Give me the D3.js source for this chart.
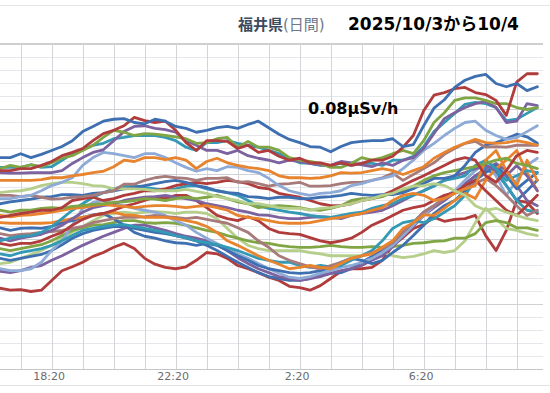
<!DOCTYPE html>
<html><head><meta charset="utf-8">
<script src="https://cdn.jsdelivr.net/npm/d3@7/dist/d3.min.js"></script>
<style>
html,body{margin:0;padding:0;background:#fff;}
svg{display:block;font-family:"DejaVu Sans","Noto Sans CJK JP",sans-serif;}
</style></head><body>
<svg id="chart" width="550" height="393"></svg>
<script>
// ---- data (air dose rate, nSv/h = 0.001 μSv/h), 20-minute readings from 2025/10/3 16:40 ----
const startTime = "2025-10-03T16:40:00";
const stepMinutes = 20;
const titlePref = "福井県";
const titleKind = "(日間)";
const titleDate = "2025/10/3から10/4";
const refLevel = 80;            // 0.08 μSv/h
const unitLabel = "μSv/h";
const tickTimes = ["2025-10-03T18:20:00","2025-10-03T22:20:00","2025-10-04T02:20:00","2025-10-04T06:20:00"];

const s01 = [72.6,72.6,73.2,72.6,73.1,73.7,74.3,75.2,76.6,77.4,78.2,78.5,78.6,78.0,77.8,78.5,78.2,77.4,77.1,76.5,76.8,77.2,77.4,77.1,77.7,78.2,77.2,76.2,75.4,74.9,74.3,74.2,73.5,74.3,74.9,75.1,75.2,75.2,75.5,74.3,74.6,77.5,80.2,81.5,83.4,84.5,85.1,85.4,84.0,83.5,84.0,82.9,83.5];
const s02 = [70.6,70.6,70.9,70.9,71.4,72.0,72.9,73.4,74.0,75.2,76.3,76.8,77.5,78.8,78.3,78.0,78.2,76.8,74.9,73.7,75.2,75.2,75.1,74.0,74.5,73.4,73.7,72.8,72.2,72.5,71.8,71.8,71.4,71.8,71.4,71.7,72.2,72.2,72.8,74.2,76.0,79.8,82.2,82.6,83.2,83.4,82.6,82.3,81.4,79.1,84.2,85.5,85.5];
const s03 = [70.9,71.4,71.1,71.5,71.2,71.8,72.5,72.9,73.7,74.5,75.7,76.8,76.5,76.0,76.3,76.2,76.0,75.8,75.5,74.8,74.9,75.5,75.7,74.2,75.1,74.2,74.2,73.7,72.6,72.2,72.0,71.7,71.1,71.1,71.7,72.6,72.2,72.6,73.2,73.7,73.2,75.2,78.0,79.5,81.4,81.8,81.8,81.4,80.9,80.9,80.3,80.0,80.3];
const s04 = [70.3,70.2,70.2,70.3,70.3,70.3,70.6,71.7,72.6,73.4,73.8,75.2,76.6,77.4,77.5,77.1,76.9,76.5,75.2,74.5,73.7,73.7,73.2,73.7,72.9,72.5,72.2,71.8,72.2,72.0,71.7,71.5,71.4,72.0,71.8,71.5,71.2,71.8,71.4,72.2,72.6,74.0,76.3,78.6,79.5,80.3,80.9,81.2,80.3,78.0,78.2,80.9,80.6];
const s05 = [71.1,71.1,71.1,71.5,71.1,71.2,72.2,73.2,73.8,74.5,74.8,75.5,75.7,76.0,76.0,76.0,75.7,75.2,74.2,73.7,74.9,74.9,75.2,74.8,74.5,74.2,73.7,73.2,72.5,71.8,71.7,71.4,71.4,71.7,71.4,71.7,71.7,71.4,72.2,72.2,72.8,74.3,76.6,78.0,79.4,80.8,81.1,80.9,80.3,78.3,78.5,79.4,80.3];
const s06 = [69.1,69.1,69.1,69.1,69.2,69.5,69.5,69.8,70.0,70.3,70.5,71.2,72.2,72.0,72.6,72.6,72.3,72.6,72.2,70.9,72.0,72.5,71.8,71.4,71.1,70.9,70.6,69.8,69.5,69.5,69.4,69.5,69.8,70.3,70.2,70.3,70.6,70.9,70.6,70.0,70.6,71.2,72.5,73.4,74.2,74.8,75.4,74.9,74.8,74.9,75.2,74.9,74.5];
const s07 = [66.3,66.3,66.6,66.8,67.5,68.3,68.8,69.5,71.4,72.6,73.4,73.2,72.9,72.6,73.2,73.2,72.6,71.8,71.1,70.5,70.9,70.6,71.2,71.1,70.6,70.3,69.4,68.3,67.5,67.1,66.8,67.1,67.2,67.5,68.3,68.6,69.1,69.4,69.8,70.9,72.2,73.7,74.8,76.0,77.1,78.0,78.2,76.8,76.0,75.4,75.7,76.6,77.5];
const s08 = [66.8,66.8,66.6,66.8,66.5,66.2,66.3,66.5,66.6,66.8,67.2,67.5,68.5,68.5,69.1,69.5,69.7,69.5,69.4,69.1,69.4,69.4,69.5,68.8,68.9,68.6,68.2,68.5,68.6,68.8,68.2,68.2,68.3,68.6,68.8,68.8,69.1,69.5,70.2,69.1,70.0,70.9,71.8,73.1,74.0,74.8,75.1,74.2,74.3,74.2,74.5,74.5,74.5];
const s09 = [67.2,67.4,67.5,67.8,68.3,68.6,68.8,68.8,68.6,68.3,68.2,67.8,67.8,67.8,67.7,67.5,67.5,67.5,67.7,67.4,67.1,66.6,66.3,66.0,65.5,65.5,65.2,64.9,64.8,64.8,64.5,64.8,64.9,65.2,65.5,66.0,66.3,66.8,67.1,67.8,68.2,68.3,68.6,68.3,67.5,66.8,65.2,64.5,64.8,64.2,63.7,63.2,62.9];
const s10 = [65.5,65.8,66.0,66.2,66.5,66.6,66.9,66.9,66.8,67.1,67.2,67.5,67.8,68.0,68.3,68.6,68.9,69.1,68.8,68.3,68.0,67.5,67.2,67.1,66.6,66.5,66.3,66.5,66.5,66.3,66.3,66.5,66.6,66.8,67.1,66.9,66.8,66.9,66.9,67.2,67.8,68.6,69.4,69.4,69.8,71.4,73.4,74.5,74.9,75.5,76.2,75.8,74.8];
const s11 = [63.4,63.7,64.0,64.2,64.5,64.5,64.9,66.0,66.3,66.5,66.0,66.3,66.8,67.1,67.5,67.5,67.8,68.3,68.6,68.8,68.6,68.8,69.1,68.9,68.6,68.0,67.8,67.1,66.8,66.5,66.0,65.5,65.2,65.2,65.5,66.0,66.3,66.8,67.5,68.3,69.1,69.8,70.6,71.4,72.2,72.6,72.2,69.8,68.8,70.6,72.9,73.7,73.4];
const s12 = [64.5,64.2,64.5,64.5,64.8,64.9,64.8,65.1,65.2,65.4,65.5,65.7,65.8,66.0,66.3,66.2,66.0,66.3,66.5,66.3,66.5,66.8,66.3,65.8,65.5,64.9,65.1,65.2,65.1,64.9,64.6,64.5,64.8,65.2,66.0,66.3,66.3,66.6,67.2,67.5,68.2,69.1,69.8,70.3,70.6,70.9,71.2,71.7,72.2,72.5,71.7,71.4,70.9];
const s13 = [62.6,62.5,62.5,62.5,62.5,62.6,62.9,63.2,63.4,63.7,64.0,64.2,63.8,63.7,63.4,63.4,63.4,63.2,62.9,62.6,62.0,61.1,59.8,59.1,58.3,57.5,56.8,56.2,55.5,55.7,56.0,55.7,55.5,56.3,57.1,57.5,57.8,58.8,59.8,61.7,62.6,63.8,63.7,64.8,66.0,67.1,66.3,69.1,70.9,72.2,73.7,70.3,67.5];
const s14 = [61.8,61.4,61.7,61.8,61.7,62.0,62.6,62.9,63.4,63.8,64.0,63.2,62.2,61.1,60.5,60.2,59.8,59.5,59.4,59.1,59.4,59.1,58.3,57.5,56.8,56.0,55.5,55.2,54.9,54.8,54.9,55.2,55.7,56.5,57.1,56.8,56.3,56.8,58.0,59.1,60.6,62.2,64.0,65.2,66.0,67.5,69.1,70.3,71.4,69.8,67.8,69.1,70.3];
const s15 = [60.9,60.6,60.8,60.9,61.1,61.2,61.4,61.7,62.0,62.6,62.9,63.2,63.4,63.4,63.5,63.7,63.5,63.4,63.2,63.4,63.1,62.8,62.5,61.8,61.1,59.8,58.8,57.5,56.8,56.3,55.8,55.5,56.0,56.5,57.1,57.5,58.0,58.6,59.5,61.1,62.6,64.2,65.2,66.3,67.1,67.8,68.6,69.4,68.3,66.8,65.2,63.7,64.5];
const s16 = [55.5,55.2,55.2,55.5,56.5,58.3,59.8,62.2,64.8,65.7,66.0,65.5,65.2,64.8,64.5,64.2,63.7,62.9,62.2,61.1,60.2,59.4,58.6,57.8,57.1,56.3,55.5,54.8,54.2,54.0,54.3,54.8,55.2,55.7,56.0,56.5,57.1,58.0,59.1,60.6,62.2,63.7,65.2,66.5,67.5,69.1,70.6,71.8,69.8,66.8,69.1,71.4,72.5];
const s17 = [55.1,54.9,55.2,55.7,56.0,56.8,57.5,58.3,59.1,59.8,60.5,61.1,61.7,62.2,62.2,61.8,61.4,60.9,60.5,60.2,59.8,59.2,58.3,57.2,56.3,55.5,54.9,54.3,54.0,53.7,54.0,54.3,54.8,55.2,55.5,56.0,56.8,57.5,58.9,60.5,62.0,63.7,64.9,66.0,67.2,68.6,69.8,70.9,71.7,70.6,68.3,66.0,65.2];
const s18 = [59.4,59.1,59.4,59.4,59.8,60.5,61.1,62.2,63.1,63.7,64.0,64.5,65.1,65.5,66.0,66.5,66.3,66.8,66.8,66.0,64.9,63.7,63.2,62.9,63.5,62.9,61.7,61.1,60.9,60.8,60.3,59.8,59.5,59.8,60.2,61.1,62.2,62.9,63.7,64.5,64.9,65.2,66.0,66.8,67.2,68.3,69.1,67.5,66.0,64.5,63.7,65.2,66.8];
const s19 = [52.5,52.2,52.3,52.0,52.2,53.7,55.2,55.8,56.5,57.4,58.0,58.8,59.4,58.6,57.1,56.2,55.7,55.5,55.8,56.8,58.0,57.8,57.1,56.0,55.5,54.9,54.2,53.7,52.8,52.6,52.2,52.9,54.0,55.1,55.5,55.5,55.7,56.8,59.1,60.3,61.7,62.3,63.4,62.8,63.1,63.2,63.7,60.6,58.3,61.4,66.0,65.7,64.0];
const s20 = [58.6,58.3,58.6,58.9,59.2,59.8,60.6,61.4,61.8,62.2,62.3,62.6,62.9,62.9,62.6,62.5,62.6,62.5,62.2,61.8,61.4,61.1,60.6,60.2,59.8,59.5,59.4,59.1,58.9,58.8,58.8,58.9,59.1,58.9,58.8,58.8,58.9,58.8,58.9,59.1,59.4,59.5,59.7,59.8,60.2,60.2,60.9,62.6,62.9,62.6,61.8,61.8,61.4];
const s21 = [57.8,57.5,58.0,58.3,58.6,59.1,59.8,60.6,61.4,61.7,62.0,62.2,62.3,62.0,61.7,61.4,61.1,60.6,60.3,59.8,59.5,59.2,58.8,58.3,57.7,57.1,56.8,56.5,56.5,56.0,55.7,56.0,55.8,56.0,56.8,57.5,58.3,59.8,61.7,62.6,62.9,62.6,63.2,64.2,65.2,66.8,69.1,71.4,70.6,68.3,66.0,64.5,64.2];
const s22 = [57.1,56.8,57.1,57.4,57.7,58.3,59.2,60.2,60.9,61.4,61.7,62.0,62.0,61.7,61.4,61.1,60.9,60.6,60.2,59.8,59.1,58.3,57.4,56.5,55.7,54.9,54.3,54.0,53.7,53.7,54.0,54.5,54.8,54.9,55.5,56.5,57.4,58.3,59.5,61.1,62.6,64.2,65.2,66.0,67.2,68.3,69.8,70.6,70.3,68.3,66.0,67.5,69.1];
const s23 = [56.3,56.5,57.1,57.7,58.3,59.1,60.2,61.1,62.0,62.9,63.7,64.0,64.2,64.0,64.2,64.3,64.2,64.0,64.2,64.2,64.0,63.2,61.7,60.2,59.1,58.6,58.3,58.3,58.3,58.3,58.0,57.8,57.5,57.5,57.5,57.5,57.8,58.0,57.5,57.2,57.4,57.8,58.3,58.0,58.3,59.8,62.6,64.8,63.2,61.7,61.4,60.9,60.6];
const s24 = [59.8,60.2,60.5,60.6,61.1,62.0,63.2,64.5,65.5,66.5,67.2,67.8,68.2,68.3,68.0,67.8,67.5,67.8,68.2,68.3,67.8,67.5,67.2,66.8,66.0,65.2,64.8,64.5,64.2,64.0,63.7,63.5,63.4,63.7,64.0,64.2,64.8,65.2,65.5,66.3,66.8,67.5,68.2,69.1,69.4,69.8,71.4,72.2,70.9,69.1,69.8,70.6,70.3];
const s25 = [60.2,59.8,60.2,60.5,60.8,61.4,62.2,63.2,64.2,64.9,65.2,65.5,66.0,66.3,66.5,66.6,66.8,66.5,66.3,66.0,65.5,65.2,64.9,64.5,64.2,63.8,63.7,63.4,63.2,63.2,63.4,63.5,63.4,63.2,63.7,64.0,64.2,64.5,65.2,66.0,66.8,67.5,68.3,69.1,69.8,70.3,70.9,71.4,70.6,69.8,71.4,69.8,67.5];
const s26 = [63.7,63.5,63.7,63.8,64.0,64.2,64.5,64.8,64.9,65.2,65.4,65.2,65.1,64.9,65.1,65.2,65.2,65.1,64.9,65.1,65.2,64.9,64.5,63.7,63.4,63.2,62.9,62.6,62.5,62.5,62.6,62.9,63.2,63.4,63.7,64.0,64.5,64.9,66.0,66.8,67.1,66.8,66.0,66.3,67.1,67.8,68.3,72.2,73.7,70.6,68.3,72.2,69.1];

// drawing order (later = on top) and palette index for each
const seriesList = [s19,s23,s20,s22,s17,s16,s14,s21,s15,s13,s18,s25,s24,s26,s12,s11,s10,s09,s08,s07,s06,s05,s04,s03,s02,s01];
const seriesColorIdx = [1,8,2,0,3,6,0,4,7,5,1,3,4,5,2,1,0,8,7,6,5,4,3,2,1,0];
const palette = ["#3e6fb0","#b03c3c","#80a544","#7d62a0","#3399b5","#e8832e","#8eaad6","#a67b7a","#b5cf8a"];

// ---- chart ----
const svg = d3.select("#chart");
const W = 550, H = 393;
const plotTop = 44, plotBottom = 369.5, plotRight = 543;
const t0 = new Date(startTime);
const nPts = s01.length;
const tEnd = d3.timeMinute.offset(t0, stepMinutes*(nPts-1));
const x = d3.scaleTime().domain([t0, tEnd]).range([0, 31*(nPts-1)*stepMinutes/60]);
const y = d3.scaleLinear().domain([40, 90]).range([plotBottom, plotTop+0.5]);

svg.append("rect").attr("width",W).attr("height",H).attr("fill","#ffffff");
svg.append("line").attr("x1",0).attr("x2",W).attr("y1",5.5).attr("y2",5.5).attr("stroke","#e6e6e6");

// horizontal grid
const gvals = d3.range(40, 90.01, 2);
svg.append("g").selectAll("line").data(gvals).join("line")
  .attr("x1",0).attr("x2",plotRight)
  .attr("y1",d=>Math.round(y(d)-0.5)+0.5).attr("y2",d=>Math.round(y(d)-0.5)+0.5)
  .attr("stroke",d=> d%10===0 ? "#cfd1d4" : "#e4e7eb").attr("stroke-width",1);
svg.append("line").attr("x1",0).attr("x2",plotRight).attr("y1",44).attr("y2",44)
  .attr("stroke","#cfcfcf").attr("stroke-width",2);

// vertical hourly grid at :20
const hours = d3.range(0, 17).map(k => d3.timeMinute.offset(t0, 40 + 60*k));
svg.append("g").selectAll("line").data(hours).join("line")
  .attr("x1",d=>Math.round(x(d))+0.5).attr("x2",d=>Math.round(x(d))+0.5)
  .attr("y1",plotTop).attr("y2",plotBottom)
  .attr("stroke","#d3d5d8").attr("stroke-width",1);

// x axis line + bottom rule
svg.append("line").attr("x1",0).attr("x2",plotRight).attr("y1",369.5).attr("y2",369.5).attr("stroke","#c4c6c9");
svg.append("line").attr("x1",0).attr("x2",W).attr("y1",385.5).attr("y2",385.5).attr("stroke","#e2e2e2");

// series
const line = d3.line().x((d,i)=>x(d3.timeMinute.offset(t0, i*stepMinutes))).y(d=>y(d));
svg.append("g").selectAll("path").data(seriesList).join("path")
  .attr("d", d=>line(d)).attr("fill","none")
  .attr("stroke",(d,i)=>palette[seriesColorIdx[i]])
  .attr("stroke-width",2.8).attr("stroke-linejoin","round").attr("stroke-linecap","round");

// x tick labels
const fmt = d3.timeFormat("%-H:%M");
const xAxis = d3.axisBottom(x).tickValues(tickTimes.map(s=>new Date(s))).tickFormat(fmt).tickSize(0).tickPadding(0);
const gx = svg.append("g").attr("transform","translate(-3,372)").call(xAxis);
gx.select(".domain").remove();
gx.selectAll("text").attr("font-size",11).attr("fill","#6b6b6b").attr("dy","0.72em")
  .attr("font-family","DejaVu Sans, sans-serif");

// titles
const tt = svg.append("text").attr("x",238).attr("y",30).attr("font-size",15);
tt.append("tspan").attr("font-weight","bold").attr("fill","#3b4a5e").text(titlePref);
tt.append("tspan").attr("fill","#6e7987").text(titleKind);
svg.append("text").attr("x",348).attr("y",30).attr("font-size",17).attr("font-weight","bold")
  .attr("fill","#000").text(titleDate);

// reference level label
svg.append("text").attr("x",308).attr("y",y(refLevel)+4).attr("font-size",16).attr("font-weight","bold")
  .attr("fill","#000").text((refLevel/1000).toFixed(2)+unitLabel);
</script>
</body></html>
